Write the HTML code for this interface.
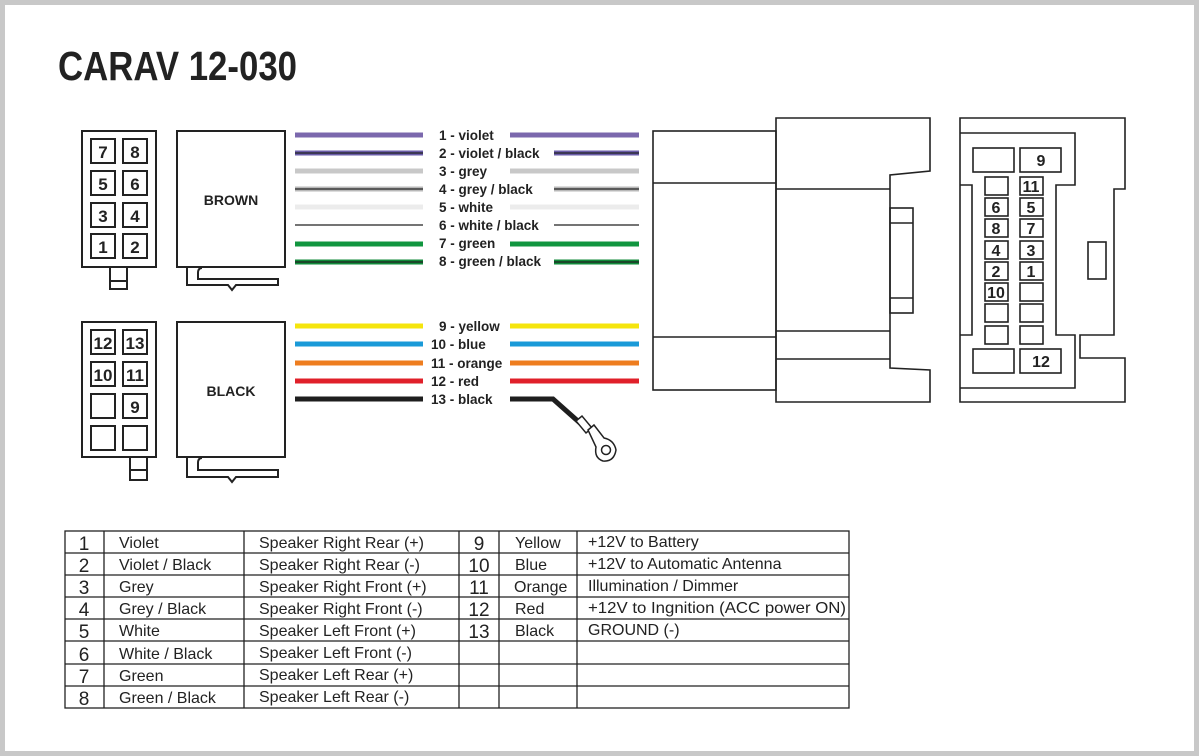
<!DOCTYPE html>
<html><head><meta charset="utf-8"><style>
html,body{margin:0;padding:0;background:#fff}
svg{display:block}
text{font-family:"Liberation Sans",sans-serif;fill:#222}
.b{font-weight:bold}
</style></head><body>
<svg width="1199" height="756" viewBox="0 0 1199 756" xmlns="http://www.w3.org/2000/svg">
<rect x="2.5" y="2.5" width="1194" height="751" fill="#fff" stroke="#c8c8c8" stroke-width="5"/>
<text x="58" y="80" class="b" font-size="41" textLength="239" lengthAdjust="spacingAndGlyphs">CARAV 12-030</text>

<g fill="none" stroke="#222" stroke-width="2">
<rect x="82" y="131" width="74" height="136"/>
<rect x="91" y="139" width="24" height="24"/><rect x="123" y="139" width="24" height="24"/>
<rect x="91" y="171" width="24" height="24"/><rect x="123" y="171" width="24" height="24"/>
<rect x="91" y="203" width="24" height="24"/><rect x="123" y="203" width="24" height="24"/>
<rect x="91" y="234" width="24" height="24"/><rect x="123" y="234" width="24" height="24"/>
<rect x="110" y="267" width="17" height="22"/><line x1="110" y1="281" x2="127" y2="281"/>
<rect x="177" y="131" width="108" height="136"/>
<path d="M187 267 V285 H228 L232 290 L236 285 H278 V279 H198 V273 Q198 268 202 268"/>
<rect x="82" y="322" width="74" height="135"/>
<rect x="91" y="330" width="24" height="24"/><rect x="123" y="330" width="24" height="24"/>
<rect x="91" y="362" width="24" height="24"/><rect x="123" y="362" width="24" height="24"/>
<rect x="91" y="394" width="24" height="24"/><rect x="123" y="394" width="24" height="24"/>
<rect x="91" y="426" width="24" height="24"/><rect x="123" y="426" width="24" height="24"/>
<rect x="130" y="457" width="17" height="23"/><line x1="130" y1="470" x2="147" y2="470"/>
<rect x="177" y="322" width="108" height="135"/>
<path d="M187 457 V477 H228 L232 482 L236 477 H278 V470 H198 V463 Q198 458 202 458"/>
</g>
<g class="b" font-size="17" text-anchor="middle">
<text x="103" y="158">7</text><text x="135" y="158">8</text>
<text x="103" y="190">5</text><text x="135" y="190">6</text>
<text x="103" y="222">3</text><text x="135" y="222">4</text>
<text x="103" y="253">1</text><text x="135" y="253">2</text>
<text x="103" y="349">12</text><text x="135" y="349">13</text>
<text x="103" y="381">10</text><text x="135" y="381">11</text>
<text x="135" y="413">9</text>
</g>
<text x="231" y="205" class="b" font-size="14" text-anchor="middle">BROWN</text>
<text x="231" y="396" class="b" font-size="14" text-anchor="middle">BLACK</text>

<g stroke-width="5">
<line x1="295" y1="135" x2="423" y2="135" stroke="#7b68ad"/><line x1="510" y1="135" x2="639" y2="135" stroke="#7b68ad"/>
<line x1="295" y1="153" x2="423" y2="153" stroke="#6a5ca8"/><line x1="554" y1="153" x2="639" y2="153" stroke="#6a5ca8"/>
<line x1="295" y1="171" x2="423" y2="171" stroke="#c8c8c8"/><line x1="510" y1="171" x2="639" y2="171" stroke="#c8c8c8"/>
<line x1="295" y1="189" x2="423" y2="189" stroke="#b8b8b8"/><line x1="554" y1="189" x2="639" y2="189" stroke="#b8b8b8"/>
<line x1="295" y1="207" x2="423" y2="207" stroke="#ececec"/><line x1="510" y1="207" x2="639" y2="207" stroke="#ececec"/>
<line x1="295" y1="244" x2="423" y2="244" stroke="#11963f"/><line x1="510" y1="244" x2="639" y2="244" stroke="#11963f"/>
<line x1="295" y1="262" x2="423" y2="262" stroke="#118a3a"/><line x1="554" y1="262" x2="639" y2="262" stroke="#118a3a"/>
<line x1="295" y1="326" x2="423" y2="326" stroke="#f5e50d"/><line x1="510" y1="326" x2="639" y2="326" stroke="#f5e50d"/>
<line x1="295" y1="344" x2="423" y2="344" stroke="#1a9ad8"/><line x1="510" y1="344" x2="639" y2="344" stroke="#1a9ad8"/>
<line x1="295" y1="363" x2="423" y2="363" stroke="#ee7d1f"/><line x1="510" y1="363" x2="639" y2="363" stroke="#ee7d1f"/>
<line x1="295" y1="381" x2="423" y2="381" stroke="#e0202a"/><line x1="510" y1="381" x2="639" y2="381" stroke="#e0202a"/>
<path d="M295 399 H423 M510 399 H553 L580 423" stroke="#1e1e1e" fill="none"/>
</g>
<g stroke="#222" stroke-width="1.3">
<line x1="295" y1="153" x2="423" y2="153"/><line x1="554" y1="153" x2="639" y2="153"/>
<line x1="295" y1="189" x2="423" y2="189"/><line x1="554" y1="189" x2="639" y2="189"/>
<line x1="295" y1="225" x2="423" y2="225"/><line x1="554" y1="225" x2="639" y2="225"/>
<line x1="295" y1="262" x2="423" y2="262"/><line x1="554" y1="262" x2="639" y2="262"/>
</g>
<g fill="#fff" stroke="#222" stroke-width="1.5">
<path d="M576 421 L582 416 L592 428 L586 433 Z"/>
<path d="M588 430 L594 425 L604 438 Q614 440 616 450 Q614 462 603 461 Q594 458 596 447 Z"/>
<circle cx="606" cy="450" r="4.5"/>
</g>
<g class="b" font-size="13.5">
<text x="439" y="140">1 - violet</text>
<text x="439" y="158">2 - violet / black</text>
<text x="439" y="176">3 - grey</text>
<text x="439" y="194">4 - grey / black</text>
<text x="439" y="212">5 - white</text>
<text x="439" y="230">6 - white / black</text>
<text x="439" y="248">7 - green</text>
<text x="439" y="266">8 - green / black</text>
<text x="439" y="331">9 - yellow</text>
<text x="431" y="349">10 - blue</text>
<text x="431" y="368">11 - orange</text>
<text x="431" y="386">12 - red</text>
<text x="431" y="404">13 - black</text>
</g>

<g fill="none" stroke="#222" stroke-width="1.6">
<rect x="653" y="131" width="123" height="259"/>
<line x1="653" y1="183" x2="776" y2="183"/><line x1="653" y1="337" x2="776" y2="337"/>
<path d="M776 118 H930 V171 L890 175 V368 L930 370 V402 H776 Z"/>
<line x1="776" y1="189" x2="890" y2="189"/>
<line x1="776" y1="331" x2="890" y2="331"/><line x1="776" y1="359" x2="890" y2="359"/>
<rect x="890" y="208" width="23" height="105"/>
<line x1="890" y1="223" x2="913" y2="223"/><line x1="890" y1="298" x2="913" y2="298"/>
<path d="M960 118 H1125 V189 H1114 V335 H1080 V358 H1125 V402 H960 Z"/>
<path d="M960 133 H1075 V185 H1056 V335 H1075 V388 H960"/>
<path d="M960 185 H972 V335 H960"/>
<rect x="973" y="148" width="41" height="24"/><rect x="1020" y="148" width="41" height="24"/>
<rect x="973" y="349" width="41" height="24"/><rect x="1020" y="349" width="41" height="24"/>
<rect x="1088" y="242" width="18" height="37"/>
<rect x="985" y="177" width="23" height="18"/><rect x="1020" y="177" width="23" height="18"/>
<rect x="985" y="198" width="23" height="18"/><rect x="1020" y="198" width="23" height="18"/>
<rect x="985" y="219" width="23" height="18"/><rect x="1020" y="219" width="23" height="18"/>
<rect x="985" y="241" width="23" height="18"/><rect x="1020" y="241" width="23" height="18"/>
<rect x="985" y="262" width="23" height="18"/><rect x="1020" y="262" width="23" height="18"/>
<rect x="985" y="283" width="23" height="18"/><rect x="1020" y="283" width="23" height="18"/>
<rect x="985" y="304" width="23" height="18"/><rect x="1020" y="304" width="23" height="18"/>
<rect x="985" y="326" width="23" height="18"/><rect x="1020" y="326" width="23" height="18"/>
</g>
<g class="b" font-size="16" text-anchor="middle">
<text x="1041" y="166">9</text><text x="1041" y="367">12</text>
<text x="1031" y="192">11</text>
<text x="996" y="213">6</text><text x="1031" y="213">5</text>
<text x="996" y="234">8</text><text x="1031" y="234">7</text>
<text x="996" y="256">4</text><text x="1031" y="256">3</text>
<text x="996" y="277">2</text><text x="1031" y="277">1</text>
<text x="996" y="298">10</text>
</g>

<g fill="none" stroke="#222" stroke-width="1.3">
<rect x="65" y="531" width="784" height="177"/>
<line x1="104" y1="531" x2="104" y2="708"/><line x1="244" y1="531" x2="244" y2="708"/>
<line x1="459" y1="531" x2="459" y2="708"/><line x1="499" y1="531" x2="499" y2="708"/>
<line x1="577" y1="531" x2="577" y2="708"/>
<line x1="65" y1="553" x2="849" y2="553"/><line x1="65" y1="575" x2="849" y2="575"/>
<line x1="65" y1="597" x2="849" y2="597"/><line x1="65" y1="619" x2="849" y2="619"/>
<line x1="65" y1="641" x2="849" y2="641"/><line x1="65" y1="664" x2="849" y2="664"/>
<line x1="65" y1="686" x2="849" y2="686"/>
</g>
<g font-size="19" text-anchor="middle">
<text x="84" y="550">1</text><text x="84" y="572">2</text><text x="84" y="594">3</text><text x="84" y="616">4</text>
<text x="84" y="638">5</text><text x="84" y="661">6</text><text x="84" y="683">7</text><text x="84" y="705">8</text>
<text x="479" y="550">9</text><text x="479" y="572">10</text><text x="479" y="594">11</text><text x="479" y="616">12</text><text x="479" y="638">13</text>
</g>
<g font-size="16">
<text x="119" y="548">Violet</text>
<text x="119" y="570">Violet / Black</text>
<text x="119" y="592">Grey</text>
<text x="119" y="614">Grey / Black</text>
<text x="119" y="636">White</text>
<text x="119" y="659">White / Black</text>
<text x="119" y="681">Green</text>
<text x="119" y="703">Green / Black</text>
<text x="259" y="548">Speaker Right Rear (+)</text>
<text x="259" y="570">Speaker Right Rear (-)</text>
<text x="259" y="592">Speaker Right Front (+)</text>
<text x="259" y="614">Speaker Right Front (-)</text>
<text x="259" y="636">Speaker Left Front (+)</text>
<text x="259" y="658">Speaker Left Front (-)</text>
<text x="259" y="680">Speaker Left Rear (+)</text>
<text x="259" y="702">Speaker Left Rear (-)</text>
<text x="515" y="548">Yellow</text>
<text x="515" y="570">Blue</text>
<text x="514" y="592">Orange</text>
<text x="515" y="614">Red</text>
<text x="515" y="636">Black</text>
<text x="588" y="547">+12V to Battery</text>
<text x="588" y="569">+12V to Automatic Antenna</text>
<text x="588" y="591">Illumination / Dimmer</text>
<text x="588" y="613" textLength="258" lengthAdjust="spacingAndGlyphs">+12V to Ingnition (ACC power ON)</text>
<text x="588" y="635">GROUND (-)</text>
</g>
</svg>
</body></html>
